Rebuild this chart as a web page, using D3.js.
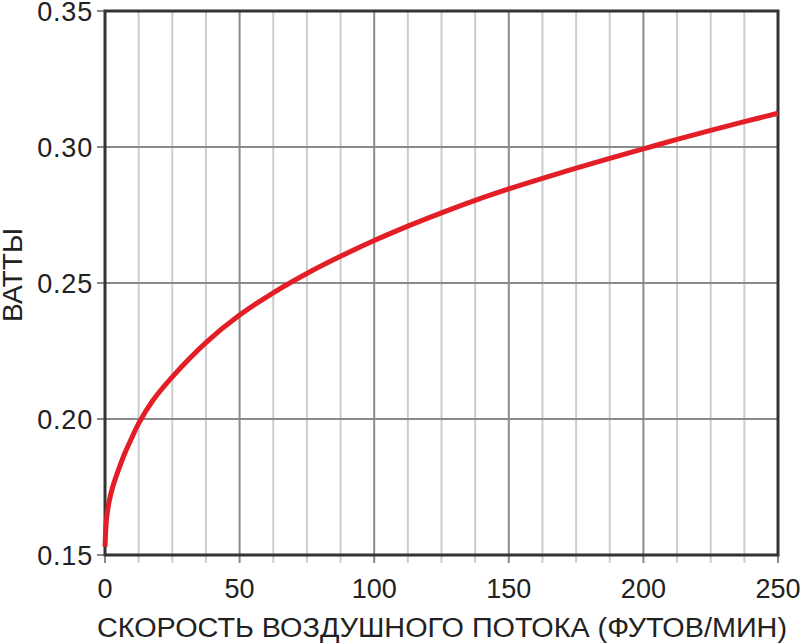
<!DOCTYPE html>
<html>
<head>
<meta charset="utf-8">
<script src="https://cdn.jsdelivr.net/npm/d3@7"></script>
<style>
  body { margin: 0; background: #fff; }
  svg text { font-family: "Liberation Sans", Arial, sans-serif; fill: #222; }
</style>
</head>
<body>
<div id="chart"></div>
<script>
var W = 800, H = 643;
var margin = { top: 11, right: 22, bottom: 88, left: 105 };

// airflow (ft/min) vs watts
var airflow = [0, 0.3, 0.6, 1.5, 2.8, 4.9, 7.4, 10.1, 12.5, 17.9, 25, 37.5, 50, 62.5, 75, 87.5, 100,
  112.5, 125, 137.5, 150, 162.5, 175, 187.5, 200, 212.5, 225, 237.5, 250];
var watts = [0.153, 0.1595, 0.1635, 0.1695, 0.1748, 0.1810, 0.1875, 0.1934, 0.1984, 0.2070, 0.2155, 0.2281, 0.2382,
  0.2464, 0.2535, 0.2598, 0.2656, 0.2709, 0.2758, 0.2804, 0.2846, 0.2885, 0.2922, 0.2958, 0.2993,
  0.3028, 0.3061, 0.3093, 0.3124];

var xTicks = [0, 50, 100, 150, 200, 250];
var xMinor = d3.range(0, 251, 12.5);
var yTicks = [0.15, 0.20, 0.25, 0.30, 0.35];
var xTitle = "СКОРОСТЬ ВОЗДУШНОГО ПОТОКА (ФУТОВ/МИН)";
var yTitle = "ВАТТЫ";

var w = W - margin.left - margin.right,
    h = H - margin.top - margin.bottom;

var svg = d3.select('#chart').append('svg')
  .attr('width', W)
  .attr('height', H);

var g = svg.append('g').attr('transform', 'translate(' + margin.left + ',' + margin.top + ')');

var x = d3.scaleLinear().domain([0, 250]).range([0, w]);
var y = d3.scaleLinear().domain([0.15, 0.35]).range([h, 0]);

// minor vertical grid, reaching a little below the frame
g.selectAll('line.minor')
  .data(xMinor.filter(function(d) { return xTicks.indexOf(d) < 0; }))
  .enter().append('line')
  .attr('class', 'minor')
  .attr('x1', function(d) { return x(d); })
  .attr('x2', function(d) { return x(d); })
  .attr('y1', 0).attr('y2', h + 8)
  .attr('stroke', '#cccccc').attr('stroke-width', 2);

// major vertical grid
g.selectAll('line.majorx')
  .data(xTicks)
  .enter().append('line')
  .attr('class', 'majorx')
  .attr('x1', function(d) { return x(d); })
  .attr('x2', function(d) { return x(d); })
  .attr('y1', 0).attr('y2', h + 8)
  .attr('stroke', '#8a8a8a').attr('stroke-width', 2);

// horizontal grid + left ticks
g.selectAll('line.majory')
  .data(yTicks)
  .enter().append('line')
  .attr('class', 'majory')
  .attr('x1', -8).attr('x2', w)
  .attr('y1', function(d) { return y(d); })
  .attr('y2', function(d) { return y(d); })
  .attr('stroke', '#8a8a8a').attr('stroke-width', 2);

// frame
g.append('rect')
  .attr('x', 0).attr('y', 0)
  .attr('width', w).attr('height', h)
  .attr('fill', 'none')
  .attr('stroke', '#333').attr('stroke-width', 3);

// curve
var line = d3.line()
  .x(function(d, i) { return x(airflow[i]); })
  .y(function(d) { return y(d); })
  .curve(d3.curveCatmullRom.alpha(0.5));

g.append('path')
  .datum(watts)
  .attr('d', line)
  .attr('fill', 'none')
  .attr('stroke', '#e31e26')
  .attr('stroke-width', 5);

// tick labels
g.selectAll('text.xl')
  .data(xTicks)
  .enter().append('text')
  .attr('class', 'xl')
  .attr('x', function(d) { return x(d); })
  .attr('y', h + 43)
  .attr('text-anchor', 'middle')
  .attr('font-size', 27)
  .text(function(d) { return d; });

g.selectAll('text.yl')
  .data(yTicks)
  .enter().append('text')
  .attr('class', 'yl')
  .attr('x', -12)
  .attr('y', function(d) { return y(d); })
  .attr('dy', '0.36em')
  .attr('text-anchor', 'end')
  .attr('font-size', 27)
  .attr('letter-spacing', 0.8)
  .text(function(d) { return d3.format('.2f')(d); });

// axis titles
svg.append('text')
  .attr('x', 97)
  .attr('y', 637)
  .attr('font-size', 27)
  .attr('textLength', 690)
  .attr('lengthAdjust', 'spacingAndGlyphs')
  .text(xTitle);

svg.append('text')
  .attr('transform', 'translate(22,275) rotate(-90)')
  .attr('text-anchor', 'middle')
  .attr('font-size', 27)
  .attr('textLength', 94)
  .attr('lengthAdjust', 'spacingAndGlyphs')
  .text(yTitle);
</script>
</body>
</html>
